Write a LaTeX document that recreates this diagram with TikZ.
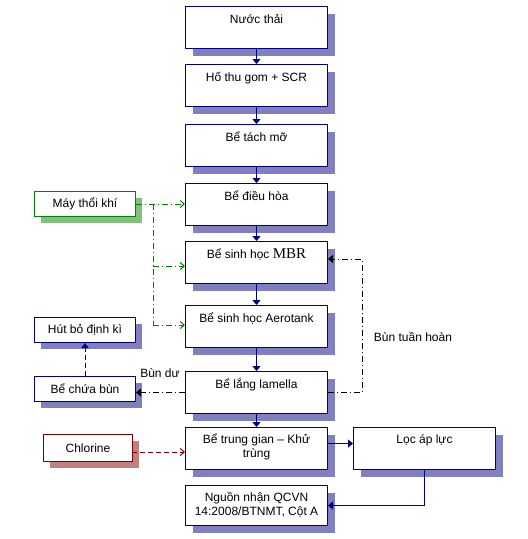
\documentclass[tikz,border=0pt]{standalone}
\usepackage{fontspec}
\setmainfont{Liberation Sans}
\newfontfamily\mbrfont{Liberation Serif}
\usetikzlibrary{arrows.meta,shadows}
\definecolor{navy}{HTML}{000080}
\definecolor{shblue}{HTML}{8080C0}
\definecolor{dgreen}{HTML}{008000}
\definecolor{shgreen}{HTML}{80C080}
\definecolor{dred}{HTML}{800000}
\definecolor{shred}{HTML}{C08080}
\tikzset{
  basebox/.style={line width=1pt, fill=white, anchor=north west, inner sep=0pt},
  mainbox/.style={basebox, draw=navy, minimum width=142pt, minimum height=42pt,
    drop shadow={shadow xshift=7pt, shadow yshift=-7pt, opacity=1, fill=shblue}},
  sidebox/.style={basebox, draw=navy, minimum width=101pt, minimum height=25pt,
    drop shadow={shadow xshift=6pt, shadow yshift=-6pt, opacity=1, fill=shblue}},
  greenbox/.style={basebox, draw=dgreen, minimum width=101pt, minimum height=25pt,
    drop shadow={shadow xshift=6pt, shadow yshift=-6pt, opacity=1, fill=shgreen}},
  redbox/.style={basebox, draw=dred, minimum width=89pt, minimum height=27pt,
    drop shadow={shadow xshift=6pt, shadow yshift=-6pt, opacity=1, fill=shred}},
  txt/.style={anchor=base, inner sep=0pt, align=center},
  flow/.style={navy, line width=1pt, -{Triangle[length=5pt,width=8pt]}},
  air/.style={dgreen, line width=1pt, dash pattern=on 6pt off 3pt on 1pt off 3pt},
  airarrow/.style={air, -{Straight Barb[length=4pt,width=7pt]}},
  sludge/.style={black, line width=1pt, dash pattern=on 6pt off 3pt on 1pt off 3pt, -{Triangle[length=5pt,width=8pt]}},
  waste/.style={navy, line width=1pt, dash pattern=on 5pt off 3pt, -{Triangle[length=5pt,width=7pt]}},
  chlor/.style={dred, line width=1pt, dash pattern=on 5pt off 3pt, -{Straight Barb[length=4pt,width=7pt]}},
}
\begin{document}
\begin{tikzpicture}[x=1pt, y=-1pt, font=\fontsize{12}{13.5}\selectfont]
\useasboundingbox (0,0) rectangle (528,539);
% main boxes
\node[mainbox] (n1) at (185,6) {};
\node[mainbox] (n2) at (185,64) {};
\node[mainbox] (n3) at (185,124) {};
\node[mainbox] (n4) at (185,183) {};
\node[mainbox] (n5) at (185,241) {};
\node[mainbox] (n6) at (185,305) {};
\node[mainbox] (n7) at (185,371) {};
\node[mainbox] (n8) at (185,427) {};
\node[mainbox, minimum height=40pt] (n9) at (185,485) {};
\node[mainbox] (loc) at (353,427) {};
% texts
\node[txt] (t1) at ([yshift=-17pt]n1.north) {Nước thải};
\node[txt] (t2) at ([yshift=-17pt]n2.north) {Hố thu gom + SCR};
\node[txt] (t3) at ([yshift=-17pt]n3.north) {Bể tách mỡ};
\node[txt] (t4) at ([yshift=-17pt]n4.north) {Bể điều hòa};
\node[txt] (t5) at ([yshift=-17pt]n5.north) {Bể sinh học {\mbrfont\fontsize{15}{15}\selectfont MBR}};
\node[txt] (t6) at ([yshift=-17pt]n6.north) {Bể sinh học Aerotank};
\node[txt] (t7) at ([yshift=-17pt]n7.north) {Bể lắng lamella};
\node[txt] (t8) at ([yshift=-30pt]n8.north) {Bể trung gian – Khử\\trùng};
\node[txt] (t9) at ([yshift=-30pt]n9.north) {Nguồn nhận QCVN\\14:2008/BTNMT, Cột A};
\node[txt] (tl) at ([yshift=-16pt]loc.north) {Lọc áp lực};
% side boxes
\node[greenbox] (may) at (34,191) {Máy thổi khí};
\node[sidebox] (hut) at (34,317) {Hút bỏ định kì};
\node[sidebox] (chua) at (34,376) {Bể chứa bùn};
\node[redbox] (chl) at (43,434) {Chlorine};
% main flow
\draw[flow] (n1.south) -- (n2.north);
\draw[flow] (n2.south) -- (n3.north);
\draw[flow] (n3.south) -- (n4.north);
\draw[flow] (n4.south) -- (n5.north);
\draw[flow] (n5.south) -- (n6.north);
\draw[flow] (n6.south) -- (n7.north);
\draw[flow] (n7.south) -- (n8.north);
\draw[flow] ([yshift=5pt]n8.east) -- ([yshift=5pt]n8.east -| loc.west);
\draw[flow] (loc.south) |- (n9.east);
% air
\coordinate (g1) at (153,204);
\coordinate (g2) at (153,266);
\coordinate (g3) at (153,325);
\draw[airarrow] (may.east |- g1) -- (g1 -| n4.west);
\draw[air] (g1) -- (g3);
\draw[airarrow] (g2) -- (g2 -| n5.west);
\draw[airarrow] (g3) -- (g3 -| n6.west);
% sludge recirculation
\coordinate (r2) at (362,259);
\draw[sludge] (n7.east) -| (r2) -- (r2 -| n5.east);
\node[inner sep=0pt] (lbr) at (413,337) {Bùn tuần hoàn};
% excess sludge
\draw[sludge] (n7.west) -- (n7.west -| chua.east);
\node[inner sep=0pt] (lbd) at (160,373) {Bùn dư};
\draw[waste] (chua.north) -- (hut.south);
% chlorine
\coordinate (c1) at (132,452);
\draw[chlor] (c1) -- (c1 -| n8.west);
\end{tikzpicture}
\end{document}
